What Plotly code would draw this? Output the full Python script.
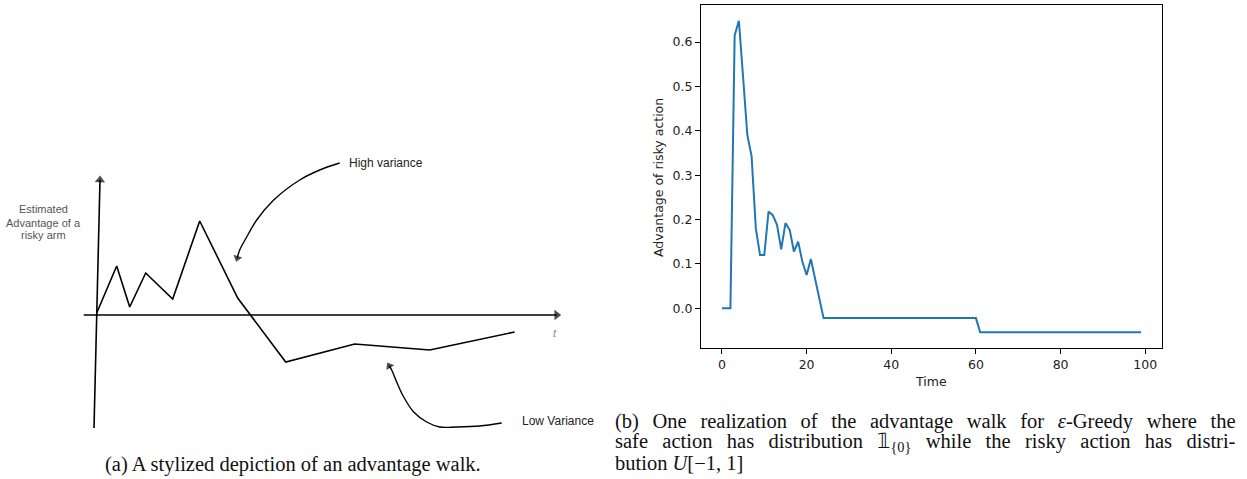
import plotly.graph_objects as go

# ---------------- Panel (b): one realization of the advantage walk ----------------
time_steps = list(range(100))
advantage = [
    0.0, 0.0, 0.0, 0.615, 0.648, 0.52, 0.39, 0.343, 0.18, 0.12,
    0.12, 0.218, 0.21, 0.188, 0.133, 0.192, 0.177, 0.128, 0.15, 0.105,
    0.075, 0.111, 0.067, 0.022, -0.022, -0.022, -0.022, -0.022, -0.022, -0.022,
    -0.022, -0.022, -0.022, -0.022, -0.022, -0.022, -0.022, -0.022, -0.022, -0.022,
    -0.022, -0.022, -0.022, -0.022, -0.022, -0.022, -0.022, -0.022, -0.022, -0.022,
    -0.022, -0.022, -0.022, -0.022, -0.022, -0.022, -0.022, -0.022, -0.022, -0.022,
    -0.022, -0.054, -0.054, -0.054, -0.054, -0.054, -0.054, -0.054, -0.054, -0.054,
    -0.054, -0.054, -0.054, -0.054, -0.054, -0.054, -0.054, -0.054, -0.054, -0.054,
    -0.054, -0.054, -0.054, -0.054, -0.054, -0.054, -0.054, -0.054, -0.054, -0.054,
    -0.054, -0.054, -0.054, -0.054, -0.054, -0.054, -0.054, -0.054, -0.054, -0.054,
]
x_ticks = [0, 20, 40, 60, 80, 100]
y_ticks = [0.0, 0.1, 0.2, 0.3, 0.4, 0.5, 0.6]
y_tick_labels = ["0.0", "0.1", "0.2", "0.3", "0.4", "0.5", "0.6"]

# ---------------- Panel (a): stylized advantage walk (drawing units) ----------------
walk_t = [0, 20, 33, 49, 76, 103, 141, 189, 258, 333, 418]
walk_v = [2, 49, 8, 42, 16, 94, 17, -47, -29, -35, -17]
h_axis_t = [-13, 460]
h_axis_v = [0, 0]
v_axis_t = [-2.7, 3.3]
v_axis_v = [-113, 135]
high_curve_t = [243, 223, 203, 177, 160, 150, 143, 140.6]
high_curve_v = [152, 145, 135, 115, 95, 78, 65, 57]
low_curve_t = [405, 383, 360, 343, 330, 317, 307, 300, 295, 292.6]
low_curve_v = [-108, -111, -112, -112, -107, -97, -82, -67, -55, -51]

W, H = 1247, 479
fig = go.Figure()


def arrow_sizes(n, size):
    return [0] * (n - 1) + [size]


def arrow_line(xs, ys, width, head, shape="linear"):
    return go.Scatter(
        x=xs, y=ys, mode="lines+markers",
        line=dict(color="black", width=width, shape=shape),
        marker=dict(symbol="triangle-up", angleref="previous",
                    size=arrow_sizes(len(xs), head), color="black",
                    line=dict(width=0)),
        xaxis="x2", yaxis="y2", hoverinfo="skip")


# --- panel (a) traces ---
fig.add_trace(arrow_line(h_axis_t, h_axis_v, 1.6, 9))
fig.add_trace(arrow_line(v_axis_t, v_axis_v, 1.6, 9))
fig.add_trace(go.Scatter(x=walk_t, y=walk_v, mode="lines",
                         line=dict(color="black", width=1.6),
                         xaxis="x2", yaxis="y2", hoverinfo="skip"))
fig.add_trace(arrow_line(high_curve_t, high_curve_v, 1.4, 8, "spline"))
fig.add_trace(arrow_line(low_curve_t, low_curve_v, 1.4, 8, "spline"))

# --- panel (b) trace ---
fig.add_trace(go.Scatter(x=time_steps, y=advantage, mode="lines",
                         line=dict(color="#1f77b4", width=2),
                         xaxis="x", yaxis="y", hoverinfo="skip"))

bx0, bx1 = 701 / W, 1162 / W
by0, by1 = 1 - 348 / H, 1 - 5 / H

tick_font = dict(family="DejaVu Sans", size=12.5, color="#222")
fig.update_layout(
    width=W, height=H,
    margin=dict(l=0, r=0, t=0, b=0),
    paper_bgcolor="white", plot_bgcolor="rgba(0,0,0,0)",
    showlegend=False,
    xaxis=dict(domain=[bx0, bx1], range=[-4.95, 103.95], tickvals=x_ticks,
               ticks="outside", ticklen=5, tickwidth=1, tickcolor="black",
               showline=True, linecolor="black", linewidth=1, mirror=True,
               showgrid=False, zeroline=False, tickfont=tick_font, anchor="y"),
    yaxis=dict(domain=[by0, by1], range=[-0.0894, 0.6834], tickvals=y_ticks,
               ticktext=y_tick_labels,
               ticks="outside", ticklen=5, tickwidth=1, tickcolor="black",
               showline=True, linecolor="black", linewidth=1, mirror=True,
               showgrid=False, zeroline=False, tickfont=tick_font, anchor="x"),
    xaxis2=dict(domain=[0, 0.5], range=[-96.7, 0.5 * W - 96.7], visible=False,
                anchor="y2", fixedrange=True),
    yaxis2=dict(domain=[0, 1], range=[315 - H, 315], visible=False,
                anchor="x2", fixedrange=True),
)

ann = []
sans = "Liberation Sans"
# panel (a) texts
ann.append(dict(x=250, y=152, xref="x2", yref="y2", text="High variance", showarrow=False,
                xanchor="left", yanchor="middle", font=dict(family=sans, size=12, color="#222")))
ann.append(dict(x=423, y=-106, xref="x2", yref="y2", text="Low Variance", showarrow=False,
                xanchor="left", yanchor="middle", font=dict(family=sans, size=12, color="#222")))
ann.append(dict(x=458, y=-18, xref="x2", yref="y2", text="<i>t</i>", showarrow=False,
                xanchor="center", yanchor="middle", font=dict(family=sans, size=11, color="#888")))
for txt, yy in [("Estimated", 105.7), ("Advantage of a", 92.3), ("risky arm", 80)]:
    ann.append(dict(x=-53.4, y=yy, xref="x2", yref="y2", text=txt, showarrow=False,
                    xanchor="center", yanchor="middle", font=dict(family=sans, size=11, color="#555")))

# panel (b) axis titles
ann.append(dict(x=(bx0 + bx1) / 2, y=1 - 381 / H, xref="paper", yref="paper", text="Time",
                showarrow=False, xanchor="center", yanchor="middle", font=tick_font))
ann.append(dict(x=659 / W, y=1 - 177 / H, xref="paper", yref="paper",
                text="Advantage of risky action", textangle=-90,
                showarrow=False, xanchor="center", yanchor="middle", font=tick_font))

# captions
serif = dict(family="Liberation Serif", size=20.5, color="#111")
ann.append(dict(x=103 / W, y=1 - 464 / H, xref="paper", yref="paper",
                text="(a) A stylized depiction of an advantage walk.",
                showarrow=False, xanchor="left", yanchor="middle", font=serif))
cap_b = [
    ("(b) One realization of the advantage walk for <i>ε</i>-Greedy where the", " \u2005\u2006"),
    ("safe action has distribution 𝟙<sub>{0}</sub> while the risky action has distri-", " \u2005\u2009"),
    ("bution <i>U</i>[−1, 1]", " "),
]
for (txt, gap), yy in zip(cap_b, [421, 442, 463]):
    ann.append(dict(x=613 / W, y=1 - yy / H, xref="paper", yref="paper",
                    text=txt.replace(" ", gap),
                    showarrow=False, xanchor="left", yanchor="middle", font=serif))

fig.update_layout(annotations=ann)
fig.write_html("out.html", config={"displayModeBar": False},
               post_script="document.body.style.margin='0';document.body.style.padding='0';")
